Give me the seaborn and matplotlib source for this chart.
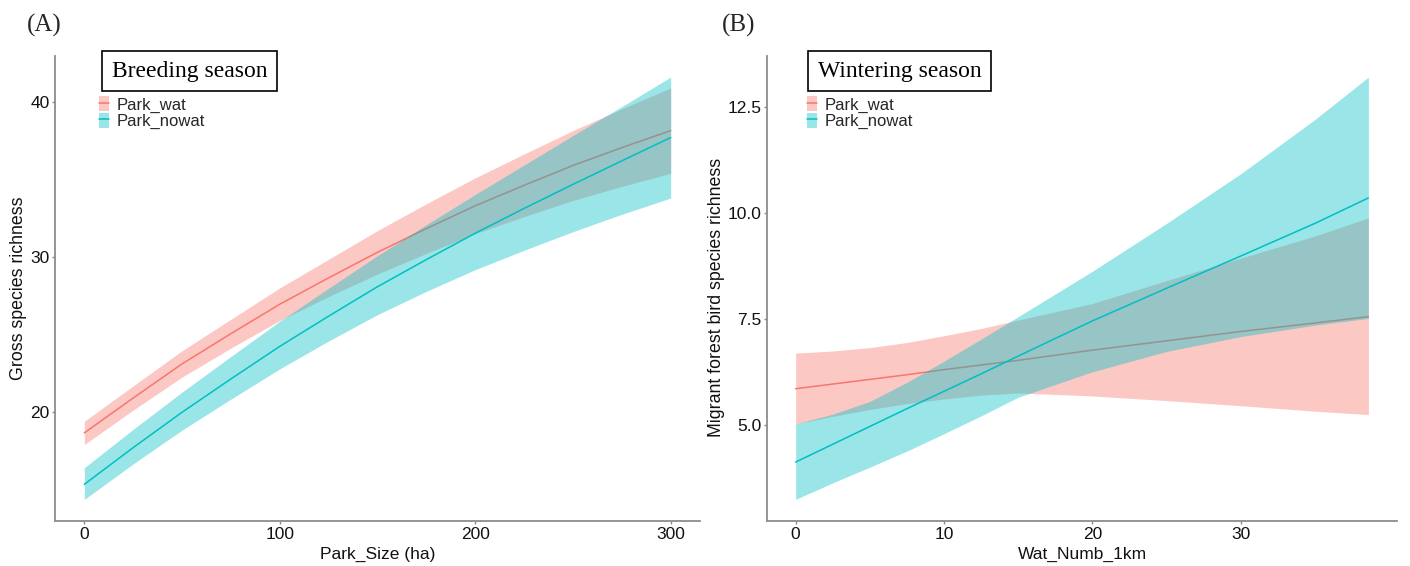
import numpy as np
import pandas as pd
import matplotlib
matplotlib.use("Agg")
import matplotlib.pyplot as plt
import seaborn as sns
from matplotlib.patches import Patch
from matplotlib.lines import Line2D
from matplotlib.legend_handler import HandlerTuple

# ---------------- data ----------------
groups = ["Park_wat", "Park_nowat"]
group_colors = ["#F8766D", "#00BFC4"]

# Panel A: breeding season
park_size = [0, 25, 50, 75, 100, 125, 150, 175, 200, 225, 250, 275, 300]
a_wat_fit = [18.65, 20.9, 23.1, 25.05, 26.95, 28.65, 30.3, 31.83, 33.3, 34.62, 35.9, 37.05, 38.15]
a_wat_lo = [17.9, 20.12, 22.25, 24.12, 25.9, 27.45, 28.9, 30.23, 31.5, 32.6, 33.65, 34.55, 35.4]
a_wat_hi = [19.4, 21.68, 23.95, 25.98, 28.0, 29.85, 31.7, 33.43, 35.1, 36.64, 38.15, 39.55, 40.9]
a_nowat_fit = [15.33, 17.7, 19.98, 22.13, 24.23, 26.18, 28.08, 29.83, 31.53, 33.13, 34.68, 36.2, 37.7]
a_nowat_lo = [14.36, 16.65, 18.83, 20.83, 22.78, 24.58, 26.28, 27.78, 29.18, 30.43, 31.63, 32.75, 33.8]
a_nowat_hi = [16.4, 18.88, 21.28, 23.58, 25.85, 27.98, 30.08, 32.08, 34.03, 35.93, 37.83, 39.7, 41.6]

# Panel B: wintering season
wat_numb = [0, 2.5, 5, 7.5, 10, 12.5, 15, 20, 25, 30, 35, 38.6]
b_wat_fit = [5.85, 5.96, 6.07, 6.18, 6.3, 6.41, 6.52, 6.76, 6.98, 7.2, 7.4, 7.55]
b_wat_lo = [5.02, 5.2, 5.36, 5.5, 5.61, 5.7, 5.75, 5.68, 5.57, 5.45, 5.32, 5.24]
b_wat_hi = [6.69, 6.74, 6.82, 6.94, 7.1, 7.27, 7.47, 7.86, 8.4, 8.93, 9.45, 9.88]
b_nowat_fit = [4.12, 4.54, 4.96, 5.38, 5.79, 6.2, 6.62, 7.45, 8.22, 8.98, 9.75, 10.35]
b_nowat_lo = [3.24, 3.63, 4.0, 4.38, 4.79, 5.21, 5.65, 6.25, 6.73, 7.08, 7.35, 7.51]
b_nowat_hi = [5.02, 5.25, 5.55, 6.0, 6.5, 7.02, 7.55, 8.62, 9.75, 10.92, 12.2, 13.2]

a_xticks = [0, 100, 200, 300]
a_yticks = [20, 30, 40]
b_xticks = [0, 10, 20, 30]
b_yticks = [5.0, 7.5, 10.0, 12.5]

# ---------------- style ----------------
sns.set_theme(style="ticks")
plt.rcParams["font.family"] = ["Liberation Sans", "DejaVu Sans"]
SERIF = ["Liberation Serif", "DejaVu Serif"]
AXIS_GRAY = "#8c8c8c"

W, H = 1410, 566
AX_BOTTOM = 520.5
AX_TOP = 56
fig = plt.figure(figsize=(W / 100, H / 100), dpi=100)
fig.patch.set_facecolor("white")

axA = fig.add_axes([55 / W, 1 - AX_BOTTOM / H, (700 - 55) / W, (AX_BOTTOM - AX_TOP) / H])
axB = fig.add_axes([767 / W, 1 - AX_BOTTOM / H, (1397 - 767) / W, (AX_BOTTOM - AX_TOP) / H])
AX_H = AX_BOTTOM - AX_TOP


def draw_panel(ax, x, fits, los, his, xticks, yticks, xlabel, ylabel, ylab_pos):
    z = 1
    for g, c, f, lo, hi in zip(groups, group_colors, fits, los, his):
        ax.fill_between(x, lo, hi, color=c, alpha=0.4, linewidth=0, zorder=z)
        df = pd.DataFrame({"x": x, "y": f})
        sns.lineplot(data=df, x="x", y="y", color=c, linewidth=1.1, ax=ax, zorder=z + 1)
        z += 2
    # ggplot-like 5% expansion
    xmin, xmax = min(x), max(x)
    xr = xmax - xmin
    ax.set_xlim(xmin - 0.05 * xr, xmax + 0.05 * xr)
    ymin = min(min(l) for l in los)
    ymax = max(max(h) for h in his)
    yr = ymax - ymin
    ax.set_ylim(ymin - 0.05 * yr, ymax + 0.05 * yr)

    ax.set_xticks(xticks)
    ax.set_yticks(yticks)
    ax.set_xticklabels([str(v) for v in xticks])
    ax.set_yticklabels([("%.1f" % v) if isinstance(v, float) else str(v) for v in yticks])
    for s in ["top", "right"]:
        ax.spines[s].set_visible(False)
    for s in ["left", "bottom"]:
        ax.spines[s].set_color(AXIS_GRAY)
        ax.spines[s].set_linewidth(1.3)
    ax.tick_params(axis="both", colors=AXIS_GRAY, labelcolor="#111111",
                   length=2.5, width=1.0, labelsize=12.5)
    ax.tick_params(axis="x", pad=2.5)
    ax.tick_params(axis="y", pad=1.5)
    ax.set_xlabel(xlabel, fontsize=12.5, color="#111111")
    ax.set_ylabel(ylabel, fontsize=12.8, color="#111111")
    ax.xaxis.set_label_coords(0.5, -(547.0 - AX_BOTTOM) / AX_H)
    ax.yaxis.set_label_coords(*ylab_pos)
    ax.set_facecolor("white")
    ax.grid(False)

    handles = [
        (Patch(facecolor=c, alpha=0.4, edgecolor="none"),
         Line2D([], [], color=c, linewidth=1.1))
        for c in group_colors
    ]
    return handles


hA = draw_panel(axA, park_size,
                [a_wat_fit, a_nowat_fit], [a_wat_lo, a_nowat_lo], [a_wat_hi, a_nowat_hi],
                a_xticks, a_yticks, "Park_Size (ha)", "Gross species richness", (-0.043, 0.5))
hB = draw_panel(axB, wat_numb,
                [b_wat_fit, b_nowat_fit], [b_wat_lo, b_nowat_lo], [b_wat_hi, b_nowat_hi],
                b_xticks, b_yticks, "Wat_Numb_1km", "Migrant forest bird species richness",
                (-0.067, 0.48))

for ax, handles, x0 in [(axA, hA, 99), (axB, hB, 807)]:
    ax.legend(handles, groups,
              handler_map={tuple: HandlerTuple(ndivide=1, pad=0)},
              loc="upper left", bbox_to_anchor=(x0 / W, 1 - 96.5 / H),
              bbox_transform=fig.transFigure, frameon=False, fontsize=12,
              handlelength=0.6, handleheight=1.0, handletextpad=0.45,
              labelspacing=0.0, borderpad=0, borderaxespad=0)

# season title boxes
for cx, txt in [(189.5, "Breeding season"), (899.5, "Wintering season")]:
    fig.text(cx / W, 1 - 71 / H, txt, family=SERIF, fontsize=17, color="black",
             ha="center", va="center",
             bbox=dict(boxstyle="square,pad=0.4", facecolor="white",
                       edgecolor="black", linewidth=1.2))

# panel labels
fig.text(27 / W, 1 - 25 / H, "(A)", family=SERIF, fontsize=18, ha="left", va="center")
fig.text(722 / W, 1 - 25 / H, "(B)", family=SERIF, fontsize=18, ha="left", va="center")

fig.savefig("out.png", dpi=100, facecolor="white")
